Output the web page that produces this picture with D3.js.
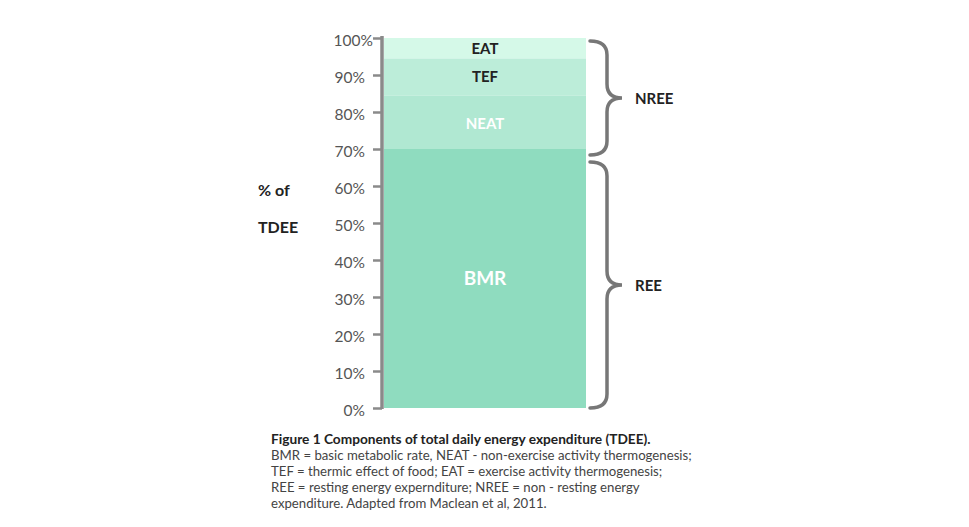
<!DOCTYPE html>
<html><head><meta charset="utf-8">
<script src="https://cdn.jsdelivr.net/npm/d3@7"></script>
<style>
body{margin:0;background:#fff;}
svg text{font-family:Lato,"Open Sans",sans-serif;}
</style></head>
<body><svg id="c" width="969" height="527"></svg>
<script>
const components = ["BMR","NEAT","TEF","EAT"];
const values = [70,14.5,10,5.5];
const colors = ["#8fdcbf","#b0e8d2","#bcedd9","#d5f9e8"];
const labelColors = ["#ffffff","#ffffff","#222222","#222222"];
const tickValues = [0,10,20,30,40,50,60,70,80,90,100];
const groups = [{name:"NREE",from:70,to:100},{name:"REE",from:0,to:70}];
const captionLines = [
 "Figure 1 Components of total daily energy expenditure (TDEE).",
 "BMR = basic metabolic rate, NEAT - non-exercise activity thermogenesis;",
 "TEF = thermic effect of food; EAT = exercise activity thermogenesis;",
 "REE = resting energy expernditure; NREE = non - resting energy",
 "expenditure. Adapted from Maclean et al, 2011."
];

const svg = d3.select("#c");
const y = d3.scaleLinear().domain([0,100]).range([408,38]);
const x = d3.scaleBand().domain(["TDEE"]).range([384,586]).padding(0);

// stacked segments
let acc=0;
const segs = components.map((c,i)=>{const s={name:c,v0:acc,v1:acc+values[i],color:colors[i],lc:labelColors[i]};acc+=values[i];return s;});
svg.selectAll("rect.seg").data(segs).enter().append("rect")
 .attr("x",x("TDEE")).attr("width",x.bandwidth())
 .attr("y",d=>y(d.v1)).attr("height",d=>y(d.v0)-y(d.v1))
 .attr("fill",d=>d.color);

const labelPos = {BMR:[35.4,19,700],NEAT:[77,15,700],TEF:[89.6,15,700],EAT:[97.2,15,700]};
svg.selectAll("text.seg").data(segs).enter().append("text")
 .attr("x",x("TDEE")+x.bandwidth()/2)
 .attr("y",d=>y(labelPos[d.name][0]))
 .attr("text-anchor","middle").attr("dominant-baseline","central")
 .attr("font-size",d=>labelPos[d.name][1]+"px").attr("font-weight",d=>labelPos[d.name][2])
 .attr("fill",d=>d.lc).text(d=>d.name);

// axis
const axis = d3.axisLeft(y).tickValues(tickValues).tickFormat(d=>d+"%").tickSize(9).tickPadding(8);
const g = svg.append("g").attr("transform","translate(382,0)").call(axis);
g.select(".domain").attr("d",`M0,${y(0)+1}V${y(100)-2}`).attr("stroke","#8a8a8a").attr("stroke-width",3.5);
g.selectAll(".tick line").attr("stroke","#8a8a8a").attr("stroke-width",2.5);
g.selectAll(".tick text").attr("font-size","15.5px").attr("font-weight",400).attr("fill","#555").attr("font-family","Lato,sans-serif").attr("dy","0.5em")
 .filter(d=>d===100).attr("x",-9);

// y title
svg.append("text").attr("x",258).attr("y",196).attr("font-size","16px").attr("font-weight",700).attr("fill","#222").text("% of");
svg.append("text").attr("x",258).attr("y",233).attr("font-size","16px").attr("font-weight",700).attr("fill","#222").text("TDEE");

// braces
function brace(y0,y1){
 const x0=590,xm=607,x1=622,r=14;const ym=(y0+y1)/2;
 return `M${x0},${y0} Q${xm},${y0} ${xm},${y0+r} L${xm},${ym-r} Q${xm},${ym} ${x1},${ym} Q${xm},${ym} ${xm},${ym+r} L${xm},${y1-r} Q${xm},${y1} ${x0},${y1}`;
}
groups.forEach(gr=>{
 const ya=y(gr.to)+ (gr.to===100?3:13), yb=y(gr.from)+(gr.from===0?0:6);
 svg.append("path").attr("d",brace(ya,yb)).attr("fill","none").attr("stroke","#777").attr("stroke-width",3.5).attr("stroke-linecap","round");
 svg.append("text").attr("x",635).attr("y",(ya+yb)/2).attr("dominant-baseline","central")
  .attr("font-size","15px").attr("font-weight",700).attr("fill","#222").text(gr.name);
});

// caption
captionLines.forEach((t,i)=>{
 svg.append("text").attr("x",271).attr("y",444+i*16).attr("font-size",i===0?"13.7px":"13.2px")
  .attr("font-weight",i===0?700:400).attr("fill",i===0?"#222":"#444").text(t);
});
</script></body></html>
